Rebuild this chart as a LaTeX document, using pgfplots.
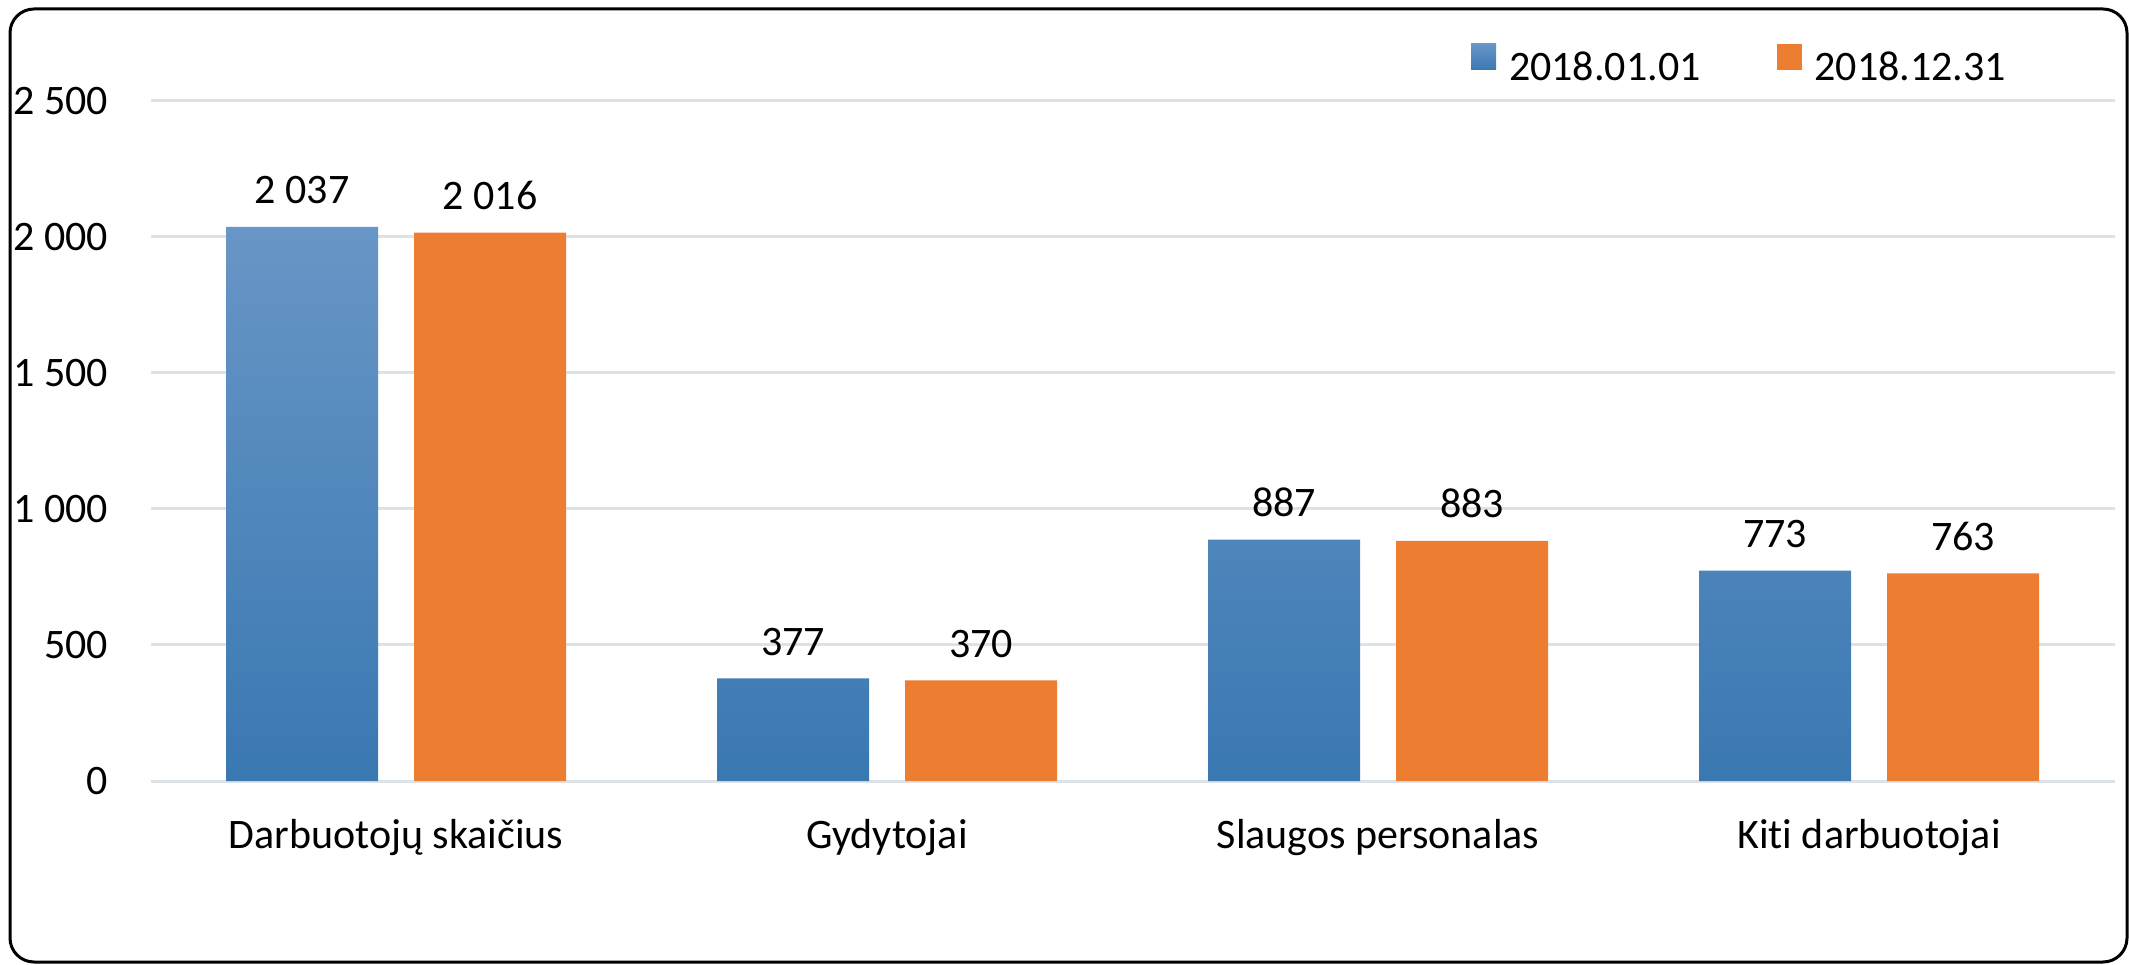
\documentclass[border=0pt]{standalone}
\usepackage{fontspec}
\setmainfont{Carlito}[Ligatures={NoCommon,NoRare}]
\usepackage{pgfplots}
\pgfplotsset{compat=1.18}
\definecolor{blueTop}{RGB}{104,150,198}
\definecolor{blueBot}{RGB}{58,120,178}
\definecolor{orng}{RGB}{237,125,49}
\definecolor{gridc}{RGB}{221,226,232}
\begin{document}
\fontsize{10.5pt}{12.6pt}\selectfont
\begin{tikzpicture}
\useasboundingbox (0,0) rectangle (532.25pt,241pt);
\begin{axis}[
  at={(37.625pt,45.75pt)}, anchor=south west,
  scale only axis, width=491pt, height=170pt,
  xmin=-0.5, xmax=3.5, ymin=0, ymax=2500,
  ytick={0,500,1000,1500,2000,2500},
  xtick={0,1,2,3},
  xticklabels={Darbuotojų skaičius, Gydytojai, Slaugos personalas, Kiti darbuotojai},
  axis line style={draw=none},
  major tick length=0pt,
  ymajorgrids, grid style={gridc, line width=0.75pt},
  /pgf/number format/assume math mode=true,
  /pgf/number format/1000 sep={\ },
  yticklabel style={anchor=east, inner sep=0pt, xshift=-10.4pt},
  xticklabel style={anchor=base, inner sep=0pt, yshift=-16.75pt},
  ybar, bar width=38pt,
  nodes near coords,
  nodes near coords style={anchor=south, inner sep=0pt, yshift=5.5pt, text=black},
  legend style={at={(0.6724,1.0522)}, anchor=west, draw=none, fill=none,
    inner sep=0pt, outer sep=0pt, nodes={inner sep=0pt},
    legend columns=2,
    /tikz/every odd column/.append style={column sep=3.25pt},
    /tikz/every even column/.append style={column sep=19pt}},
  legend image code/.code={\path[#1, draw=none] (0pt,0pt) rectangle (6.25pt,6.5pt);},
]
\addplot[top color=blueTop, bottom color=blueBot, draw=none, bar shift=-23.5pt]
  coordinates {(0,2037) (1,377) (2,887) (3,773)};
\addplot[fill=orng, draw=none, bar shift=23.5pt]
  coordinates {(0,2016) (1,370) (2,883) (3,763)};
\legend{2018.01.01, 2018.12.31}
\end{axis}
\draw[line width=0.75pt, rounded corners=6pt] (2.5pt,0.5pt) rectangle (531.75pt,238.75pt);
\end{tikzpicture}
\end{document}
